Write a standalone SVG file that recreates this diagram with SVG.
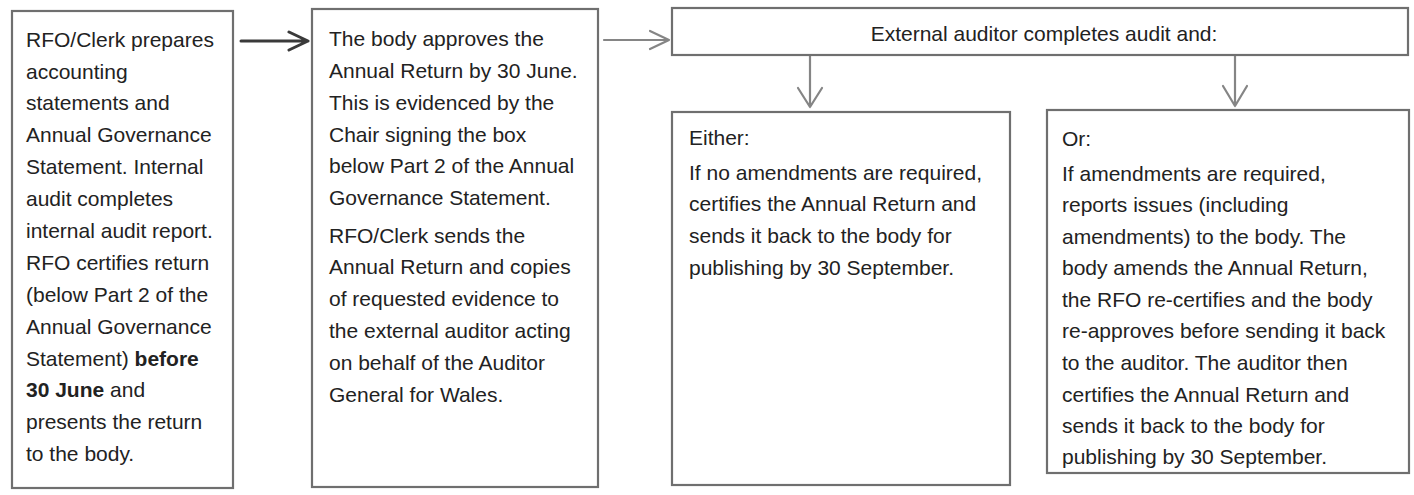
<svg xmlns="http://www.w3.org/2000/svg" width="1414" height="495" viewBox="0 0 1414 495">
<style>
.box{fill:#ffffff;stroke:#6f6f6f;stroke-width:2.2}
.t{font-family:"Liberation Sans",Arial,sans-serif;font-size:21px;fill:#222222}
.b{font-weight:bold}
.conn{fill:none;stroke:#858585;stroke-width:2.2;stroke-linecap:round;stroke-linejoin:round}
.dark{stroke:#3a3a3a;stroke-width:3}
</style>
<rect width="1414" height="495" fill="#ffffff"/>
<g id="connectors">
<path class="conn dark" d="M241,41 L308,41 M289,32 L308,41 L289,50"/>
<path class="conn" d="M604,40 L669,40 M650,31 L669,40 L650,49"/>
<path class="conn" d="M810,55 L810,107 M798,88 L810,107 L822,88"/>
<path class="conn" d="M1235,55 L1235,106 M1223,86 L1235,106 L1247,86"/>
</g>
<g id="node1">
<rect class="box" x="12" y="11" width="221" height="477"/>
<text class="t" x="26" y="47">RFO/Clerk prepares</text>
<text class="t" x="26" y="79">accounting</text>
<text class="t" x="26" y="110">statements and</text>
<text class="t" x="26" y="142">Annual Governance</text>
<text class="t" x="26" y="174">Statement. Internal</text>
<text class="t" x="26" y="206">audit completes</text>
<text class="t" x="26" y="238">internal audit report.</text>
<text class="t" x="26" y="270">RFO certifies return</text>
<text class="t" x="26" y="302">(below Part 2 of the</text>
<text class="t" x="26" y="334">Annual Governance</text>
<text class="t" x="26" y="366">Statement) <tspan class="b">before</tspan></text>
<text class="t" x="26" y="397"><tspan class="b">30 June</tspan> and</text>
<text class="t" x="26" y="429">presents the return</text>
<text class="t" x="26" y="461">to the body.</text>
</g>
<g id="node2">
<rect class="box" x="312" y="9" width="286" height="478"/>
<text class="t" x="329" y="46">The body approves the</text>
<text class="t" x="329" y="78">Annual Return by 30 June.</text>
<text class="t" x="329" y="110">This is evidenced by the</text>
<text class="t" x="329" y="142">Chair signing the box</text>
<text class="t" x="329" y="173">below Part 2 of the Annual</text>
<text class="t" x="329" y="205">Governance Statement.</text>
<text class="t" x="329" y="243">RFO/Clerk sends the</text>
<text class="t" x="329" y="274">Annual Return and copies</text>
<text class="t" x="329" y="306">of requested evidence to</text>
<text class="t" x="329" y="338">the external auditor acting</text>
<text class="t" x="329" y="370">on behalf of the Auditor</text>
<text class="t" x="329" y="402">General for Wales.</text>
</g>
<g id="node3">
<rect class="box" x="672" y="8" width="736" height="47"/>
<text class="t" x="1044" y="41" text-anchor="middle">External auditor completes audit and:</text>
</g>
<g id="node4">
<rect class="box" x="672" y="112" width="338" height="373"/>
<text class="t" x="689" y="145">Either:</text>
<text class="t" x="689" y="180">If no amendments are required,</text>
<text class="t" x="689" y="211">certifies the Annual Return and</text>
<text class="t" x="689" y="243">sends it back to the body for</text>
<text class="t" x="689" y="275">publishing by 30 September.</text>
</g>
<g id="node5">
<rect class="box" x="1047" y="110" width="362" height="363"/>
<text class="t" x="1062" y="146">Or:</text>
<text class="t" x="1062" y="181">If amendments are required,</text>
<text class="t" x="1062" y="212">reports issues (including</text>
<text class="t" x="1062" y="244">amendments) to the body. The</text>
<text class="t" x="1062" y="275">body amends the Annual Return,</text>
<text class="t" x="1062" y="307">the RFO re-certifies and the body</text>
<text class="t" x="1062" y="338">re-approves before sending it back</text>
<text class="t" x="1062" y="370">to the auditor. The auditor then</text>
<text class="t" x="1062" y="402">certifies the Annual Return and</text>
<text class="t" x="1062" y="433">sends it back to the body for</text>
<text class="t" x="1062" y="464">publishing by 30 September.</text>
</g>
</svg>
